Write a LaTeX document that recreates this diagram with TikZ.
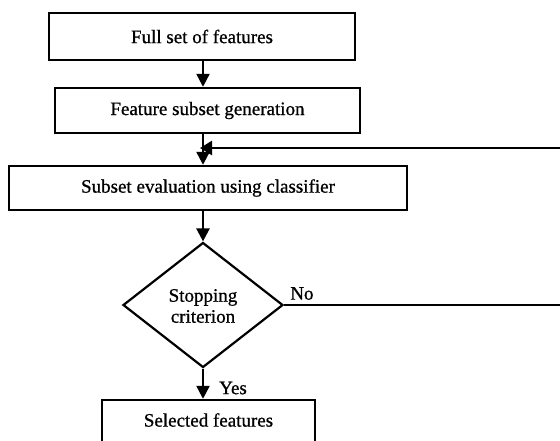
\documentclass[tikz,border=0pt]{standalone}
\usepackage{fontspec}
\setmainfont{Liberation Serif}[FakeBold=0.8]
\usetikzlibrary{shapes.geometric,arrows.meta}
\begin{document}
\begin{tikzpicture}[x=1pt,y=-1pt,
  every node/.style={font=\fontsize{19}{21}\selectfont},
  stepbox/.style={draw,line width=2.4pt,rectangle,inner sep=0pt},
  decision/.style={draw,line width=2.2pt,diamond,inner sep=0pt,align=center},
  flow/.style={line width=2.4pt,-{Triangle[width=13pt,length=13pt]}},
  plain/.style={line width=2.4pt}]
\clip (0,0) rectangle (560,440);
\fill[white] (0,0) rectangle (560,440);
\node[stepbox,minimum width=306pt,minimum height=47pt] (b1) at (202,36.5) {Full set of features};
\node[stepbox,minimum width=305pt,minimum height=45pt] (b2) at (207.5,110.5) {Feature subset generation};
\node[stepbox,minimum width=398pt,minimum height=44pt] (b3) at (208,188) {Subset evaluation using classifier};
\node[decision,minimum width=160pt,minimum height=125pt] (d) at (203,305) {};
\node (dt) at (203,306) [align=center] {Stopping\\criterion};
\node[stepbox,minimum width=213pt,minimum height=60pt] (b4) at (208.5,430) {};
\node (b4t) at (208.5,420) {Selected features};
\coordinate (fb) at (560,148);
\coordinate (join) at (203,148);
\coordinate (noend) at (560,305);
\draw[flow] (b1.south -| d.north) -- (b2.north -| d.north);
\draw[flow] (b2.south -| d.north) -- (b3.north -| d.north);
\draw[flow] (b3.south -| d.north) -- (d.north);
\draw[flow] (d.south) -- (b4.north -| d.south);
\draw[line width=2.4pt,-{Triangle[width=14pt,length=12pt]},shorten >=-3pt] (fb) -- (join);
\draw[plain] (d.east) -- (noend);
\node[anchor=south west,inner sep=0pt] (no) at ([xshift=6pt,yshift=5pt]d.east) {No};
\node[anchor=west,inner sep=0pt] (yes) at (219,388) {Yes};
\end{tikzpicture}
\end{document}
